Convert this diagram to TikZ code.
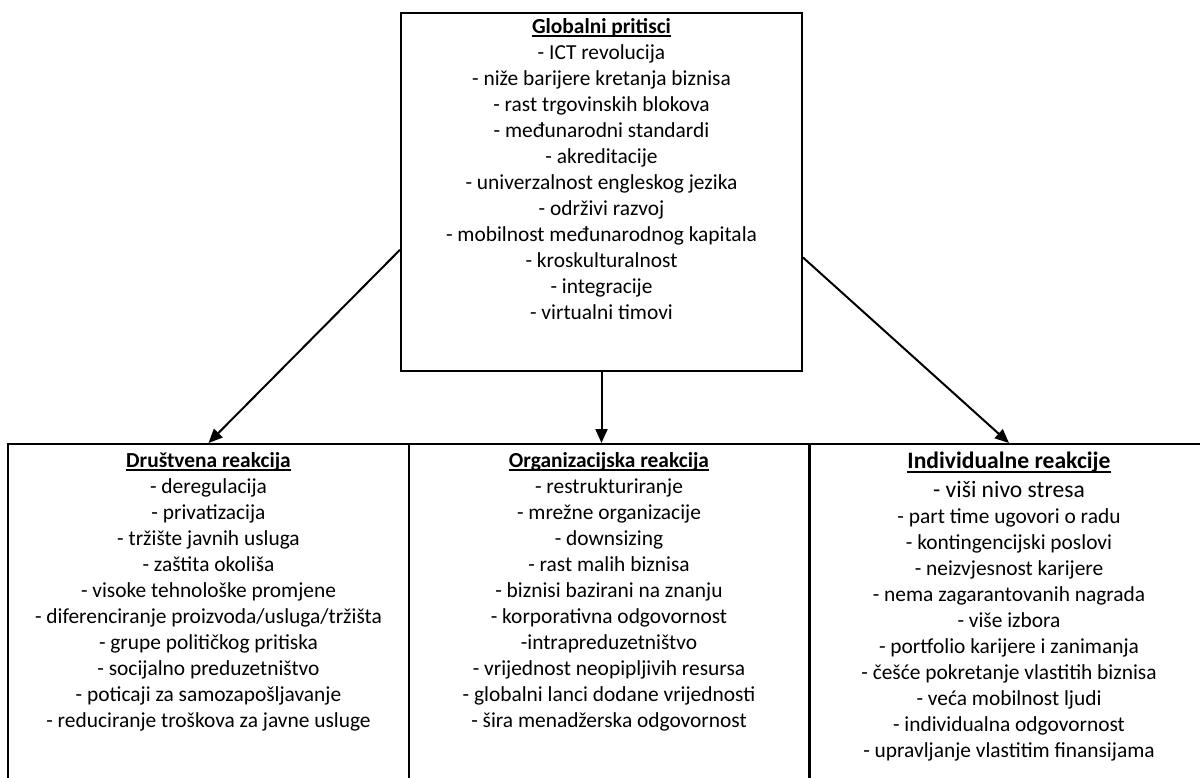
\documentclass[tikz,border=0pt]{standalone}
\usepackage{fontspec}
\setmainfont{Carlito}
\usetikzlibrary{positioning,arrows.meta}
% underlined bold heading, the rule runs through the descenders
\newcommand\ttl[1]{\setbox0\hbox{\textbf{#1}}\rlap{\rule[-1.8pt]{\wd0}{0.8pt}}\box0}

\begin{document}
\begin{tikzpicture}[x=0.5pt,y=-0.5pt,
  box/.style={draw, line width=1pt, minimum width=200.5pt, inner sep=0pt},
  lst/.style={align=center, inner sep=0pt, font=\fontsize{10.7}{13}\selectfont},
  arr/.style={-{Triangle[length=7pt,width=6pt]}, line width=1pt}]
\clip (0,0) rectangle (1200,777);
% top box
\node[box, minimum height=179pt] (glob) at (601.5,192) {};
\node[lst, below=3pt of glob.north] (globtxt) {\ttl{Globalni pritisci}\\
  - ICT revolucija\\
  - niže barijere kretanja biznisa\\
  - rast trgovinskih blokova\\
  - međunarodni standardi\\
  - akreditacije\\
  - univerzalnost engleskog jezika\\
  - održivi razvoj\\
  - mobilnost međunarodnog kapitala\\
  - kroskulturalnost\\
  - integracije\\
  - virtualni timovi};
% three reaction boxes
\node[box, minimum height=180pt] (drus) at (208.5,624) {};
\node[box, minimum height=180pt] (org) at (609,624) {};
\node[box, minimum height=180pt] (indi) at (1009,624) {};
\node[lst, below=4.5pt of drus.north] (drustxt) {\ttl{Društvena reakcija}\\
  - deregulacija\\
  - privatizacija\\
  - tržište javnih usluga\\
  - zaštita okoliša\\
  - visoke tehnološke promjene\\
  - diferenciranje proizvoda/usluga/tržišta\\
  - grupe političkog pritiska\\
  - socijalno preduzetništvo\\
  - poticaji za samozapošljavanje\\
  - reduciranje troškova za javne usluge};
\node[lst, below=4.5pt of org.north] (orgtxt) {\ttl{Organizacijska reakcija}\\
  - restrukturiranje\\
  - mrežne organizacije\\
  - downsizing\\
  - rast malih biznisa\\
  - biznisi bazirani na znanju\\
  - korporativna odgovornost\\
  -intrapreduzetništvo\\
  - vrijednost neopipljivih resursa\\
  - globalni lanci dodane vrijednosti\\
  - šira menadžerska odgovornost};
\node[lst, below=4.5pt of indi.north] (inditxt) {{\fontsize{11.8}{14}\selectfont\ttl{Individualne reakcije}}\\[1.5pt]
  {\fontsize{11.8}{14}\selectfont - viši nivo stresa}\\
  - part time ugovori o radu\\
  - kontingencijski poslovi\\
  - neizvjesnost karijere\\
  - nema zagarantovanih nagrada\\
  - više izbora\\
  - portfolio karijere i zanimanja\\
  - češće pokretanje vlastitih biznisa\\
  - veća mobilnost ljudi\\
  - individualna odgovornost\\
  - upravljanje vlastitim finansijama};
% arrows
\draw[arr] (glob.196) -- (drus.north);
\draw[arr] (glob.south) -- (glob.south |- org.north);
\draw[arr] (glob.342.6) -- (indi.north);
\end{tikzpicture}
\end{document}
